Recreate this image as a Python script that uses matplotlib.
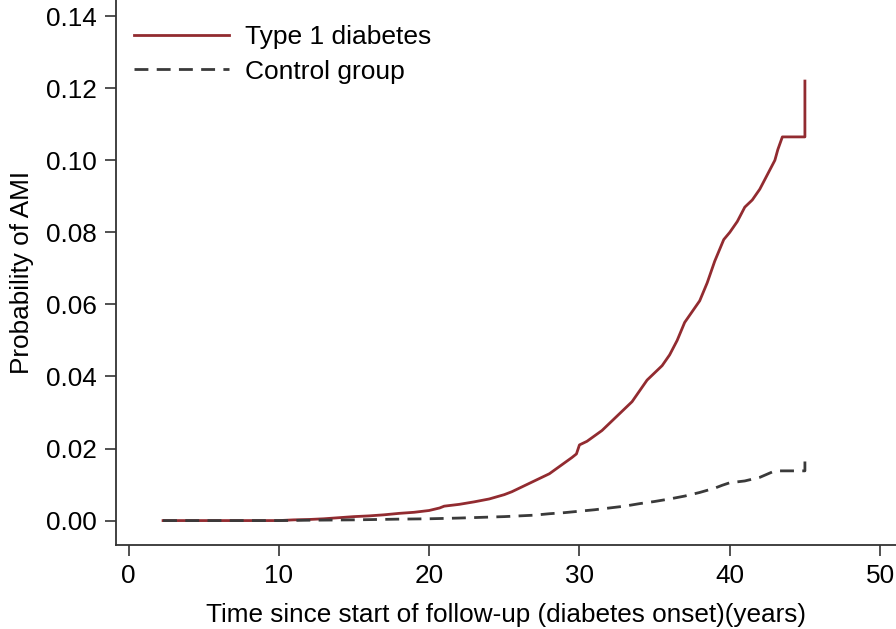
import matplotlib.pyplot as plt

plt.rcParams['font.family'] = ['Liberation Sans', 'DejaVu Sans']

# Kaplan-Meier style cumulative probability
t1_years = [2.3, 10, 11, 12, 13, 14, 15, 16, 17, 18, 19, 20, 20.7, 21, 22, 23, 24, 25,
            25.5, 26, 26.5, 27, 27.5, 28, 28.5, 29, 29.5, 29.8, 30, 30.5, 31, 31.5, 32,
            32.5, 33, 33.5, 34, 34.5, 35, 35.5, 36, 36.5, 37, 37.5, 38, 38.5, 39, 39.3,
            39.6, 40, 40.5, 41, 41.5, 42, 42.5, 43, 43.2, 43.5, 45, 45]
t1_prob = [0.0, 0.0, 0.0002, 0.0003, 0.0005, 0.0008, 0.0011, 0.0013, 0.0016, 0.002, 0.0023,
           0.0028, 0.0035, 0.004, 0.0045, 0.0052, 0.006, 0.0072, 0.008, 0.009, 0.010, 0.011,
           0.012, 0.013, 0.0145, 0.016, 0.0175, 0.0185, 0.021, 0.022, 0.0235, 0.025, 0.027,
           0.029, 0.031, 0.033, 0.036, 0.039, 0.041, 0.043, 0.046, 0.050, 0.055, 0.058,
           0.061, 0.066, 0.072, 0.075, 0.078, 0.080, 0.083, 0.087, 0.089, 0.092, 0.096,
           0.100, 0.103, 0.1065, 0.1065, 0.122]

ctrl_years = [2.3, 10, 12, 15, 18, 20, 22, 25, 27, 28, 29, 30, 31, 32, 33, 34, 35, 36, 37,
              38, 39, 39.5, 40, 41, 42, 43, 45, 45]
ctrl_prob = [0.0, 0.0, 0.0001, 0.0002, 0.0004, 0.0005, 0.0007, 0.0011, 0.0015, 0.0019,
             0.0022, 0.0026, 0.003, 0.0035, 0.004, 0.0047, 0.0053, 0.006, 0.0068, 0.0078,
             0.009, 0.0098, 0.0105, 0.011, 0.012, 0.0138, 0.0138, 0.0164]

fig = plt.figure(figsize=(8.96, 6.29), dpi=100)
ax = fig.add_axes([0.13, 0.134, 0.87, 0.866])

ax.plot(t1_years, t1_prob, color='#922b30', lw=2.0, label='Type 1 diabetes')
ax.plot(ctrl_years, ctrl_prob, color='#3a3a3a', lw=2.0, ls=(0, (5, 3)), label='Control group')

ax.set_xlim(-0.8, 51.06)
ax.set_ylim(-0.0067, 0.1445)
ax.set_xticks([0, 10, 20, 30, 40, 50])
ax.set_yticks([0, 0.02, 0.04, 0.06, 0.08, 0.10, 0.12, 0.14])
ax.set_yticklabels(['%.2f' % v for v in ax.get_yticks()])

for s in ['top', 'right']:
    ax.spines[s].set_visible(False)
for s in ['left', 'bottom']:
    ax.spines[s].set_linewidth(1.3)
    ax.spines[s].set_color('#333333')
ax.tick_params(direction='out', length=8, width=1.2, labelsize=18.8, color='#333333', pad=6)

ax.set_xlabel('Time since start of follow-up (diabetes onset)(years)', fontsize=18.8, labelpad=11)
ax.set_ylabel('Probability of AMI', fontsize=18.8, labelpad=9)

ax.legend(loc='upper left', bbox_to_anchor=(-0.01, 1.0), frameon=False, fontsize=19,
          handlelength=3.6, handletextpad=0.6, labelspacing=0.4, borderaxespad=0.55)

fig.savefig('out.png', dpi=100)
